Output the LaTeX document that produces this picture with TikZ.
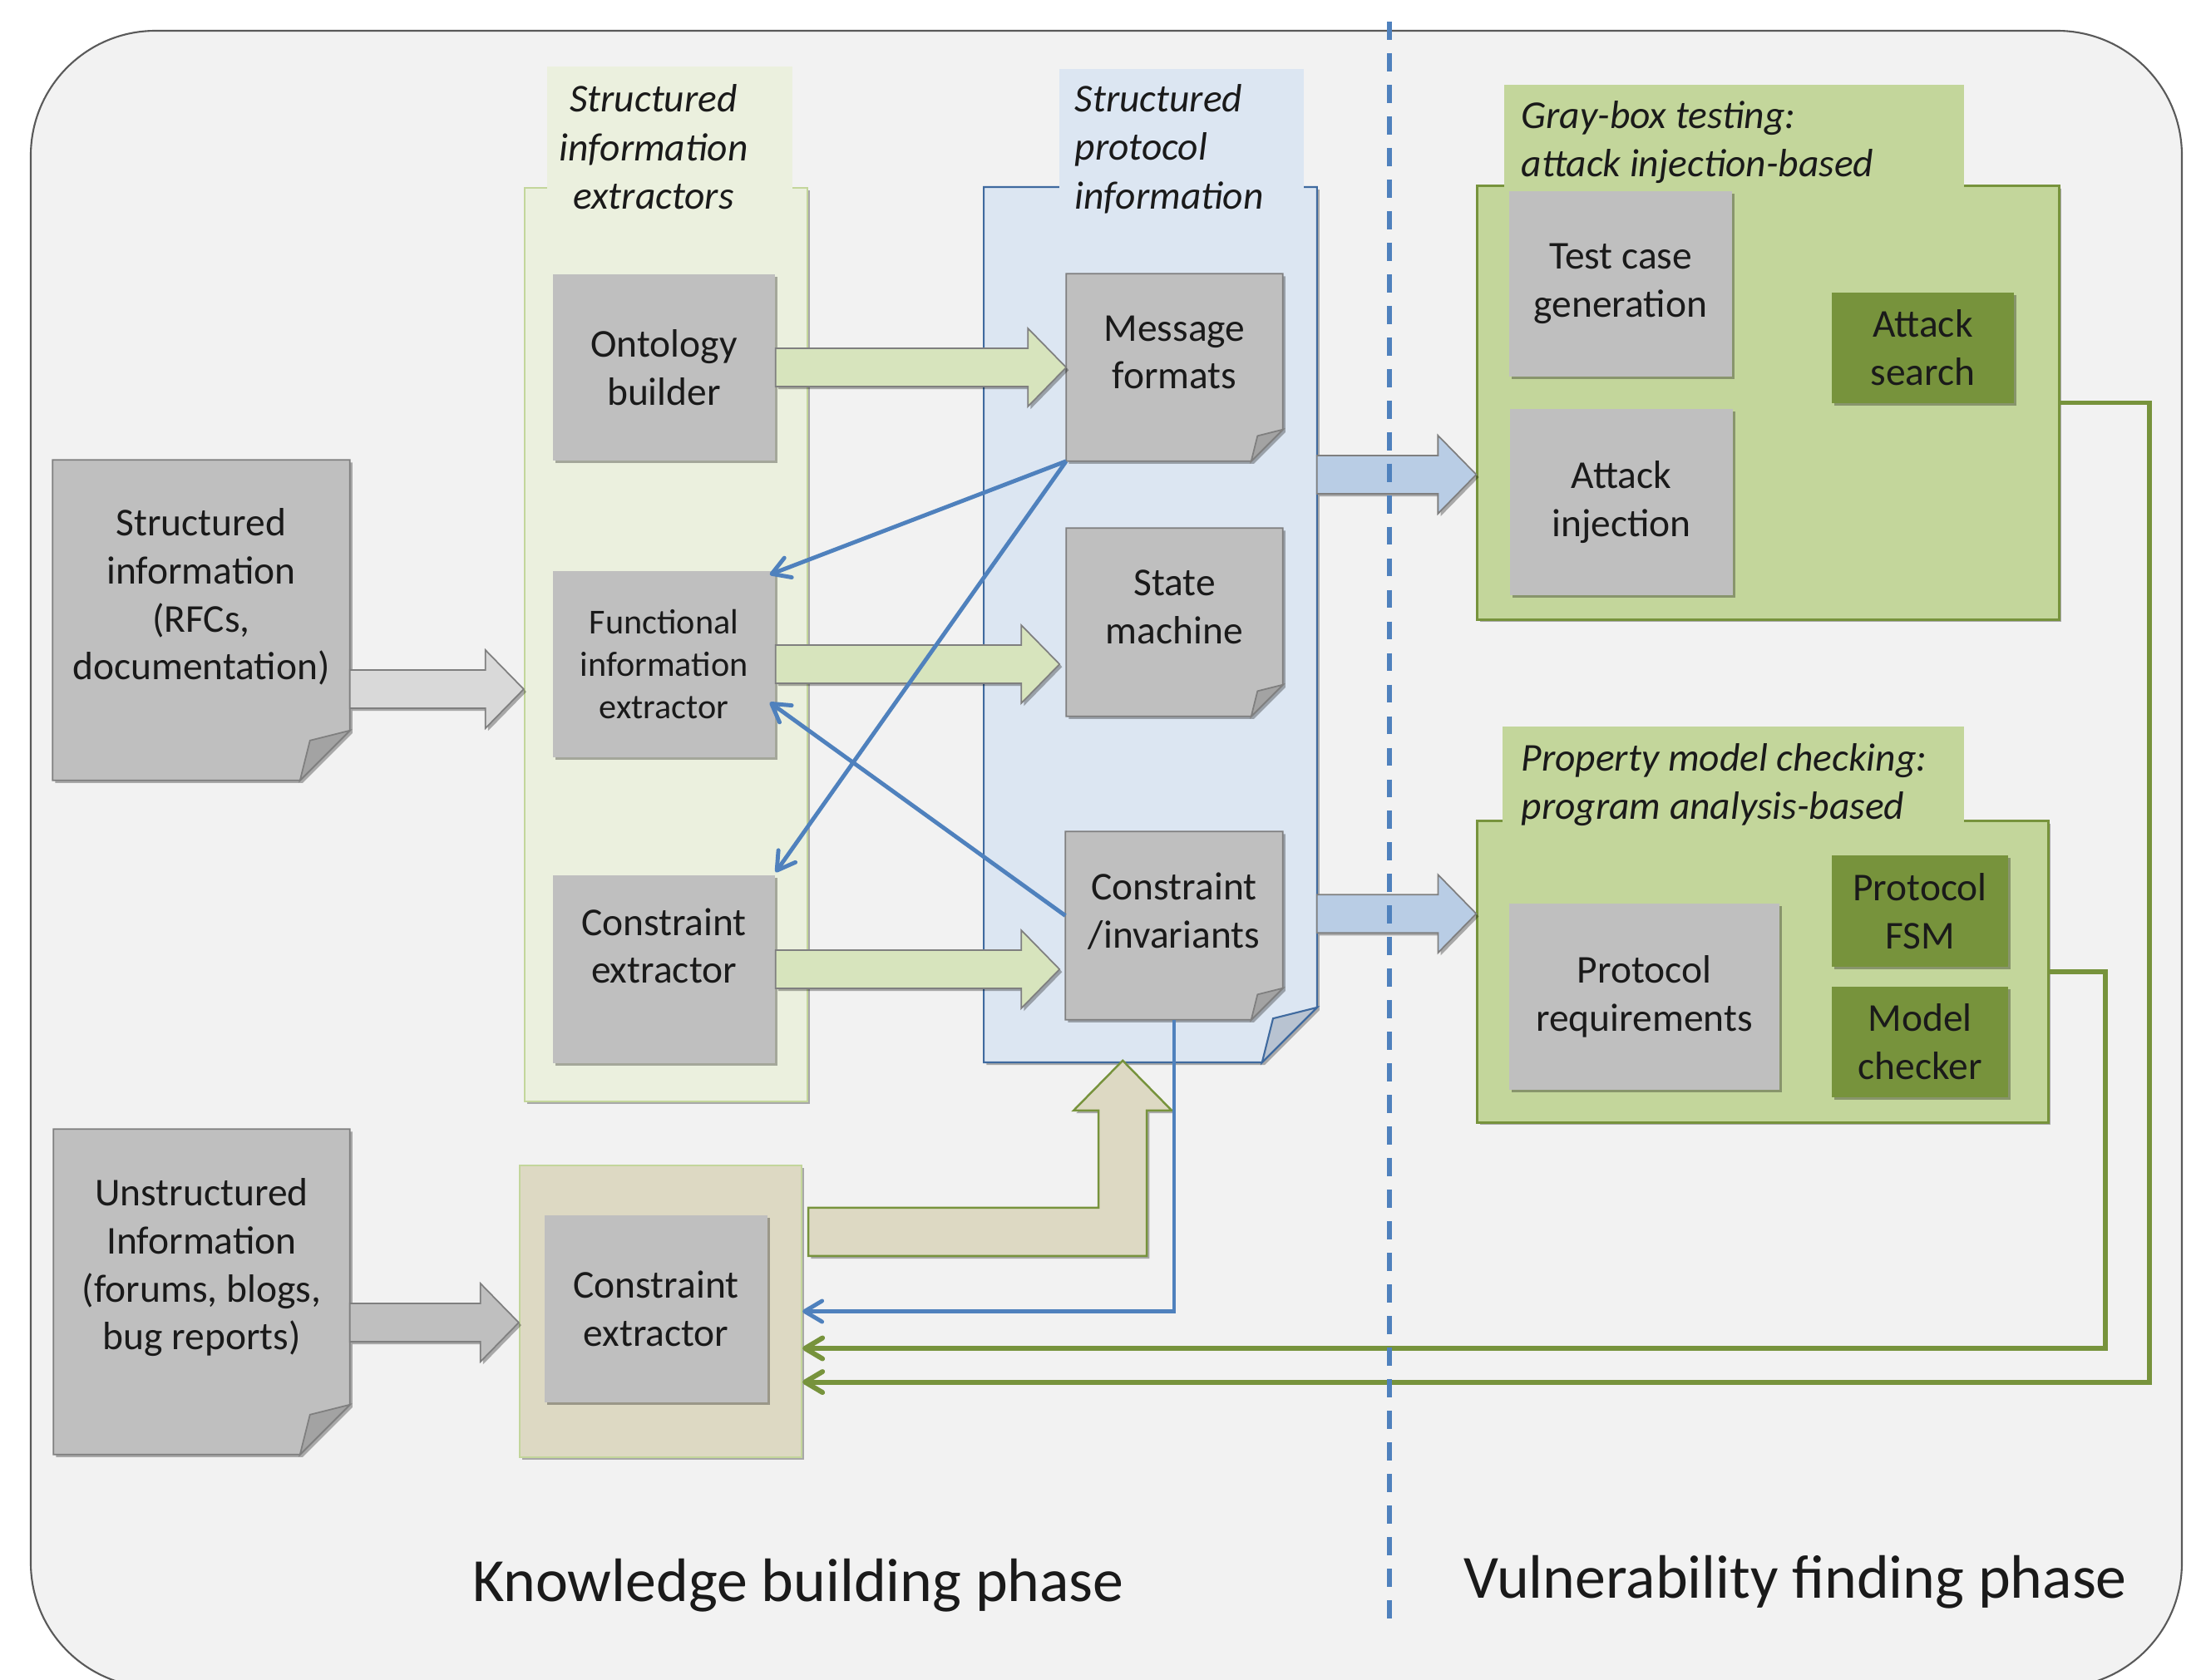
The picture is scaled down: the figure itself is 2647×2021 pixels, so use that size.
\documentclass[tikz,border=0pt]{standalone}
\usepackage{fontspec}
\setmainfont{Carlito}
\usetikzlibrary{arrows.meta,calc,shadows}

\definecolor{framebg}{HTML}{F2F2F2}
\definecolor{frameline}{HTML}{595959}
\definecolor{boxgray}{HTML}{BFBFBF}
\definecolor{pageline}{HTML}{7F7F7F}
\definecolor{pagefold}{HTML}{A3A3A3}
\definecolor{arrowgray}{HTML}{D9D9D9}
\definecolor{olivepale}{HTML}{EBF0DE}
\definecolor{olivemid}{HTML}{D7E4BD}
\definecolor{olivelight}{HTML}{C3D69B}
\definecolor{olivedark}{HTML}{77933C}
\definecolor{bluepale}{HTML}{DCE6F2}
\definecolor{bluelight}{HTML}{B9CDE5}
\definecolor{bluedark}{HTML}{4F81BD}
\definecolor{blueline}{HTML}{3F6A9F}
\definecolor{bluefold}{HTML}{B8C3D1}
\definecolor{beige}{HTML}{DDD9C3}
\definecolor{ink}{HTML}{1A1A1A}

% page with a dog-eared lower right corner, drawn round a node
\newcommand{\docpage}[4]{%
  \draw[#3] (#1.north west) -- (#1.north east) -- ([yshift=#2]#1.south east)
    -- ([xshift=-#2]#1.south east) -- (#1.south west) -- cycle;
  \draw[#4] ([yshift=#2]#1.south east) -- ([xshift=-0.8*#2,yshift=0.8*#2]#1.south east)
    -- ([xshift=-#2]#1.south east) -- cycle;}

% thick horizontal block arrow from one point to another
\newcommand{\fatarrow}[3][]{%
  \draw[#1] let \p1=(#2), \p2=(#3) in
    (\x1,\y1+0.23cm) -- (\x2-0.46cm,\y1+0.23cm) -- (\x2-0.46cm,\y1+0.47cm)
    -- (\x2,\y1) -- (\x2-0.46cm,\y1-0.47cm) -- (\x2-0.46cm,\y1-0.23cm)
    -- (\x1,\y1-0.23cm) -- cycle;}

\begin{document}
\begin{tikzpicture}[x=0.01cm, y=-0.01cm, text=ink,
  font=\fontsize{13.5}{16.4}\selectfont,
  soft/.style={drop shadow={shadow xshift=0.9pt, shadow yshift=-0.9pt, opacity=0.3, fill=black}},
  box/.style={fill=boxgray, minimum width=2.67cm, minimum height=2.24cm,
    align=center, inner sep=2pt, soft},
  darkbox/.style={box, fill=olivedark, minimum width=2.14cm, minimum height=1.33cm},
  sheet/.style={inner sep=0, minimum width=2.59cm, minimum height=2.24cm},
  sheettext/.style={align=center, inner sep=0},
  pagebody/.style={fill=boxgray, draw=pageline, line width=0.5pt, soft},
  pagecorner/.style={fill=pagefold, draw=pageline, line width=0.5pt},
  pane/.style={inner sep=0, soft},
  boxtitle/.style={font=\fontsize{13.5}{16.6}\selectfont\itshape, inner sep=0},
  fatgreen/.style={fill=olivemid, draw=pageline, line width=0.5pt, soft},
  fatblue/.style={fill=bluelight, draw=pageline, line width=0.5pt, soft},
  fatgray/.style={fill=arrowgray, draw=pageline, line width=0.5pt, soft},
  fatdark/.style={fill=boxgray, draw=pageline, line width=0.5pt, soft},
  fatbeige/.style={fill=beige, draw=olivedark, line width=0.7pt, soft},
  bluearrow/.style={draw=bluedark, line width=1.4pt,
    -{Straight Barb[length=2.1mm, width=2.5mm, round]}},
  greenarrow/.style={draw=olivedark, line width=1.7pt,
    -{Straight Barb[length=2.1mm, width=2.5mm, round]}},
  phaselabel/.style={font=\fontsize{21}{25}\selectfont, inner sep=0}]

\useasboundingbox (0,0) rectangle (2647,2021);

% outer frame
\draw[frameline, fill=framebg, line width=0.6pt, rounded corners=1.5cm]
  (37,37) rectangle (2624,2030);

% ---- knowledge building side ----
\node[pane, fill=olivepale, draw=olivelight, line width=0.6pt,
  minimum width=3.40cm, minimum height=10.99cm] (gcol) at (801,775.5) {};
\fill[olivepale] (658,80) rectangle (953,229);
\node[boxtitle, align=center] (gcol-title) at (786,177)
  {Structured\\information\\extractors};

\node[sheet, minimum width=3.99cm, minimum height=10.51cm] (bcol) at (1383.5,751.5) {};
\docpage{bcol}{0.66cm}{fill=bluepale, draw=blueline, line width=0.6pt, soft}
  {fill=bluefold, draw=blueline, line width=0.6pt}
\fill[bluepale] (1274,83) rectangle (1568,229);
\node[boxtitle, anchor=west, align=left] (bcol-title) at (1292,179)
  {Structured\\protocol\\information};

\node[pane, fill=beige, draw=olivelight, line width=0.6pt,
  minimum width=3.39cm, minimum height=3.51cm] (bbox) at (794.5,1577.5) {};

% source documents
\node[sheet, minimum width=3.56cm, minimum height=3.84cm] (sinfo) at (242,746) {};
\docpage{sinfo}{0.6cm}{pagebody}{pagecorner}
\node[sheettext] (sinfo-t) at ([yshift=0.28cm]sinfo.center)
  {Structured\\information\\(RFCs,\\documentation)};

\node[sheet, minimum width=3.55cm, minimum height=3.90cm] (uinfo) at (242.5,1554) {};
\docpage{uinfo}{0.6cm}{pagebody}{pagecorner}
\node[sheettext] (uinfo-t) at ([yshift=0.29cm]uinfo.center)
  {Unstructured\\Information\\(forums, blogs,\\bug reports)};

% extractors
\node[box] (onto) at (798.5,442) {Ontology\\builder};
\node[box, font=\fontsize{12}{14.6}\selectfont] (func) at (798.5,799)
  {Functional\\information\\extractor};
\node[box, minimum height=2.26cm] (cext) at (798.5,1166) {};
\node[sheettext] (cext-t) at ([yshift=0.28cm]cext.center) {Constraint\\extractor};
\node[box, minimum width=2.68cm, minimum height=2.25cm] (cext2) at (789,1574.5)
  {Constraint\\extractor};

% protocol information pages
\node[sheet] (msg) at (1412.5,442) {};
\docpage{msg}{0.38cm}{pagebody}{pagecorner}
\node[sheettext] (msg-t) at ([yshift=0.18cm]msg.center) {Message\\formats};

\node[sheet, minimum height=2.25cm] (state) at (1412.5,748.5) {};
\docpage{state}{0.38cm}{pagebody}{pagecorner}
\node[sheettext] (state-t) at ([yshift=0.18cm]state.center) {State\\machine};

\node[sheet, minimum width=2.60cm, minimum height=2.25cm] (cinv) at (1412,1113.5) {};
\docpage{cinv}{0.38cm}{pagebody}{pagecorner}
\node[sheettext] (cinv-t) at ([yshift=0.17cm]cinv.center) {Constraint\\/invariants};

% ---- vulnerability finding side ----
\node[pane, fill=olivelight, draw=olivedark, line width=0.8pt,
  minimum width=6.99cm, minimum height=5.21cm] (gbox) at (2126.5,484.5) {};
\fill[olivelight] (1809,102) rectangle (2362,227);
\node[boxtitle, anchor=west, align=left] (gbox-title) at (1829,171)
  {Gray-box testing:\\attack injection-based};

\node[box, minimum width=2.68cm, minimum height=2.23cm] (tcg) at (1949,341.5)
  {Test case\\generation};
\node[box, minimum width=2.68cm] (atkinj) at (1950,604) {Attack\\injection};
\node[darkbox, minimum width=2.19cm] (atksrch) at (2312.5,418.5) {Attack\\search};

\node[pane, fill=olivelight, draw=olivedark, line width=0.8pt,
  minimum width=6.86cm, minimum height=3.62cm] (mcheck) at (2120,1169) {};
\fill[olivelight] (1807,874) rectangle (2362,991);
\node[boxtitle, anchor=west, align=left] (mcheck-title) at (1829,944)
  {Property model checking:\\program analysis-based};

\node[box, minimum width=3.25cm] (preq) at (1977.5,1199) {Protocol\\requirements};
\node[darkbox, minimum width=2.12cm, minimum height=1.34cm] (fsm) at (2309,1096)
  {Protocol\\FSM};
\node[darkbox, minimum width=2.12cm] (mchk) at (2309,1253.5) {Model\\checker};

% block arrows
\fatarrow[fatgray]{[yshift=-0.83cm]sinfo.east}{gcol.west}
\fatarrow[fatdark]{[yshift=-0.37cm]uinfo.east}{bbox.west}
\fatarrow[fatgreen]{onto.east}{msg.west}
\fatarrow[fatgreen]{func.east}{[xshift=-0.08cm]state.west}
\fatarrow[fatgreen]{cext.east}{[xshift=-0.07cm]cinv.west}
\fatarrow[fatblue]{[yshift=1.805cm]bcol.east}{gbox.west}
\fatarrow[fatblue]{[yshift=-3.475cm]bcol.east}{mcheck.west}
\draw[fatbeige] ([shift={(7,52)}]bbox.north east) -- ++(349,0) -- ++(0,-117)
  -- ++(-30,0) -- ++(59,-60) -- ++(59,60) -- ++(-30,0) -- ++(0,175)
  -- ++(-407,0) -- cycle;

% links between extractors and protocol information
\draw[bluearrow] (msg.south west) -- ([shift={(-7,5)}]func.north east);
\draw[bluearrow] (msg.south west) -- ([shift={(0,-3)}]cext.north east);
\draw[bluearrow] ([yshift=0.12cm]cinv.west) -- ([shift={(-7,46)}]func.east);
\draw[bluearrow] (cinv.south) |- (bbox.east);

% feedback from the testing tools
\draw[greenarrow] (mcheck.east) -- ++(67,0) |- ([yshift=-0.445cm]bbox.east);
\draw[greenarrow] (gbox.east) -- ++(107,0) |- ([yshift=-0.85cm]bbox.east);

% phase separator
\coordinate (sep-top) at (1671,26);
\coordinate (sep-bot) at (1671,1952);
\draw[bluedark, line width=1.5pt, dash pattern=on 6.2pt off 4.6pt] (sep-top) -- (sep-bot);

\node[phaselabel] (kphase) at (960,1907) {Knowledge building phase};
\node[phaselabel] (vphase) at (2159,1903) {Vulnerability finding phase};

\end{tikzpicture}
\end{document}
